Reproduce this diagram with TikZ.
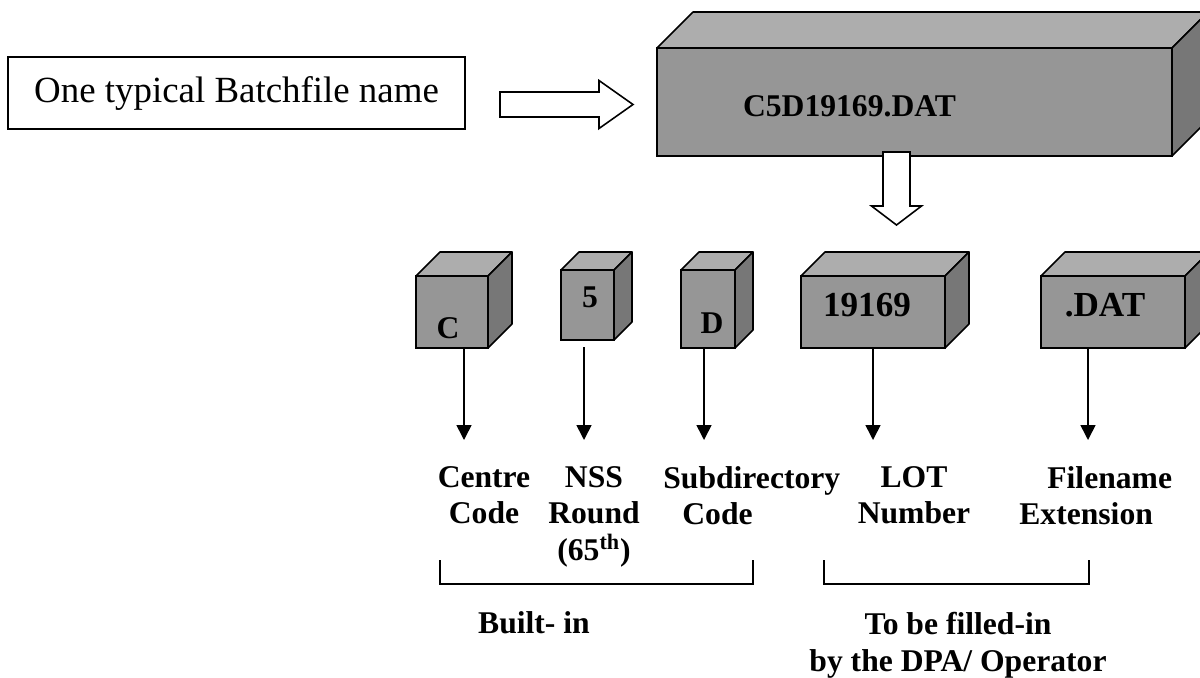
\documentclass[tikz,border=0pt]{standalone}
\usepackage{fontspec}
\setmainfont{Liberation Serif}
\usetikzlibrary{arrows.meta,calc,positioning}
\definecolor{facegray}{RGB}{150,150,150}
\definecolor{topgray}{RGB}{173,173,173}
\definecolor{sidegray}{RGB}{119,119,119}
\tikzstyle{face} = [draw=black, line width=0.9pt, fill=facegray, inner sep=0pt, outer sep=0pt]
\tikzstyle{topface} = [draw=black, line width=0.9pt, fill=topgray, line join=round]
\tikzstyle{sideface} = [draw=black, line width=0.9pt, fill=sidegray, line join=round]
\tikzstyle{hollow} = [draw=black, line width=0.9pt, fill=white]
\tikzstyle{downarr} = [line width=0.9pt, -{Triangle[width=0.3cm,length=0.3cm]}]
\tikzstyle{lbl} = [font=\fontsize{18}{20.8}\selectfont\bfseries, inner sep=0pt]
\tikzstyle{bigtxt} = [font=\fontsize{20}{24}\selectfont\bfseries, inner sep=0pt]

\begin{document}
\begin{tikzpicture}[x=0.02cm, y=-0.02cm]
\useasboundingbox (0,0) rectangle (1200,677);
\clip (0,0) rectangle (1200,677);
% batchfile name and hollow arrow
\node (name) [draw, line width=0.9pt, minimum width=9.14cm, minimum height=1.44cm, inner sep=0pt, font=\fontsize{21}{24}\selectfont] at (236.5,93) {One typical Batchfile name};
\coordinate (inL) at (500,104.5);
\coordinate (inR) at (633,104.5);
\draw[hollow] ($(inL)+(0,-12.5)$) -- ($(inR)+(-34,-12.5)$) -- ($(inR)+(-34,-24)$) -- (inR) -- ($(inR)+(-34,24)$) -- ($(inR)+(-34,12.5)$) -- ($(inL)+(0,12.5)$) -- cycle;
% whole file name
\node (file) [face, minimum width=10.3cm, minimum height=2.16cm] at (914.5,102) {};
\filldraw[topface] (file.north west) -- ++(36,-36) -- ($(file.north east)+(36,-36)$) -- (file.north east) -- cycle;
\filldraw[sideface] (file.north east) -- ++(36,-36) -- ($(file.south east)+(36,-36)$) -- (file.south east) -- cycle;
\node (fileTxt) [lbl, anchor=base] at (849.5,116) {C5D19169.DAT};
\coordinate (outT) at (896.5,152);
\coordinate (outB) at (896.5,225);
\draw[hollow] ($(outT)+(-13.5,0)$) -- ($(outB)+(-13.5,-19)$) -- ($(outB)+(-25,-19)$) -- (outB) -- ($(outB)+(25,-19)$) -- ($(outB)+(13.5,-19)$) -- ($(outT)+(13.5,0)$) -- cycle;
% the parts
\node (cC) [face, minimum width=1.44cm, minimum height=1.44cm] at (452,312) {};
\filldraw[topface] (cC.north west) -- ++(24,-24) -- ($(cC.north east)+(24,-24)$) -- (cC.north east) -- cycle;
\filldraw[sideface] (cC.north east) -- ++(24,-24) -- ($(cC.south east)+(24,-24)$) -- (cC.south east) -- cycle;
\node (cTxt) [lbl, anchor=base] at (448,338) {C};
\node (five) [face, minimum width=1.06cm, minimum height=1.4cm] at (587.5,305) {};
\filldraw[topface] (five.north west) -- ++(18,-18) -- ($(five.north east)+(18,-18)$) -- (five.north east) -- cycle;
\filldraw[sideface] (five.north east) -- ++(18,-18) -- ($(five.south east)+(18,-18)$) -- (five.south east) -- cycle;
\node (fiveTxt) [lbl, anchor=base] at (590,307) {5};
\node (dee) [face, minimum width=1.08cm, minimum height=1.56cm] at (708,309) {};
\filldraw[topface] (dee.north west) -- ++(18,-18) -- ($(dee.north east)+(18,-18)$) -- (dee.north east) -- cycle;
\filldraw[sideface] (dee.north east) -- ++(18,-18) -- ($(dee.south east)+(18,-18)$) -- (dee.south east) -- cycle;
\node (deeTxt) [lbl, anchor=base] at (712,333) {D};
\node (lot) [face, minimum width=2.88cm, minimum height=1.44cm] at (873,312) {};
\filldraw[topface] (lot.north west) -- ++(24,-24) -- ($(lot.north east)+(24,-24)$) -- (lot.north east) -- cycle;
\filldraw[sideface] (lot.north east) -- ++(24,-24) -- ($(lot.south east)+(24,-24)$) -- (lot.south east) -- cycle;
\node (lotTxt) [bigtxt, anchor=base] at (867,316) {19169};
\node (ext) [face, minimum width=2.88cm, minimum height=1.44cm] at (1113,312) {};
\filldraw[topface] (ext.north west) -- ++(24,-24) -- ($(ext.north east)+(24,-24)$) -- (ext.north east) -- cycle;
\filldraw[sideface] (ext.north east) -- ++(24,-24) -- ($(ext.south east)+(24,-24)$) -- (ext.south east) -- cycle;
\node (extTxt) [bigtxt, anchor=base] at (1105,316) {.DAT};
% arrows down
\coordinate (cEnd) at (464,440);
\coordinate (fiveEnd) at (584,440);
\coordinate (deeEnd) at (704,440);
\coordinate (lotEnd) at (873,440);
\coordinate (extEnd) at (1088,440);
\draw[downarr] (cEnd |- cC.south) -- (cEnd);
\draw[downarr] ($(fiveEnd |- five.south)+(0,7)$) -- (fiveEnd);
\draw[downarr] (deeEnd |- dee.south) -- (deeEnd);
\draw[downarr] (lotEnd |- lot.south) -- (lotEnd);
\draw[downarr] (extEnd |- ext.south) -- (extEnd);
% labels
\node (centreLbl) [lbl, anchor=north, align=center] at (484,466) {Centre\\Code};
\node (nssLbl) [lbl, anchor=north, align=center] at (594,466) {NSS\\Round\\(65\textsuperscript{th})};
\node (subLbl) [lbl, anchor=north west, align=left] at (663,466) {Subdirectory\\\hspace*{0.38cm}Code};
\node (lotLbl) [lbl, anchor=north, align=center] at (914,466) {LOT\\Number};
\node (extLbl) [lbl, anchor=north west, align=left] at (1019,466) {\hspace*{0.56cm}Filename\\Extension};
% brackets
\draw[line width=0.9pt] (440,560) -- (440,584) -- (753,584) -- (753,560);
\draw[line width=0.9pt] (824,560) -- (824,584) -- (1089,584) -- (1089,560);
\node (builtLbl) [lbl, anchor=base] at (534,633) {Built- in};
\node (fillLbl) [lbl, anchor=north, align=center, font=\fontsize{18}{21}\selectfont\bfseries] at (958,612) {To be filled-in\\by the DPA/ Operator};
\end{tikzpicture}
\end{document}
